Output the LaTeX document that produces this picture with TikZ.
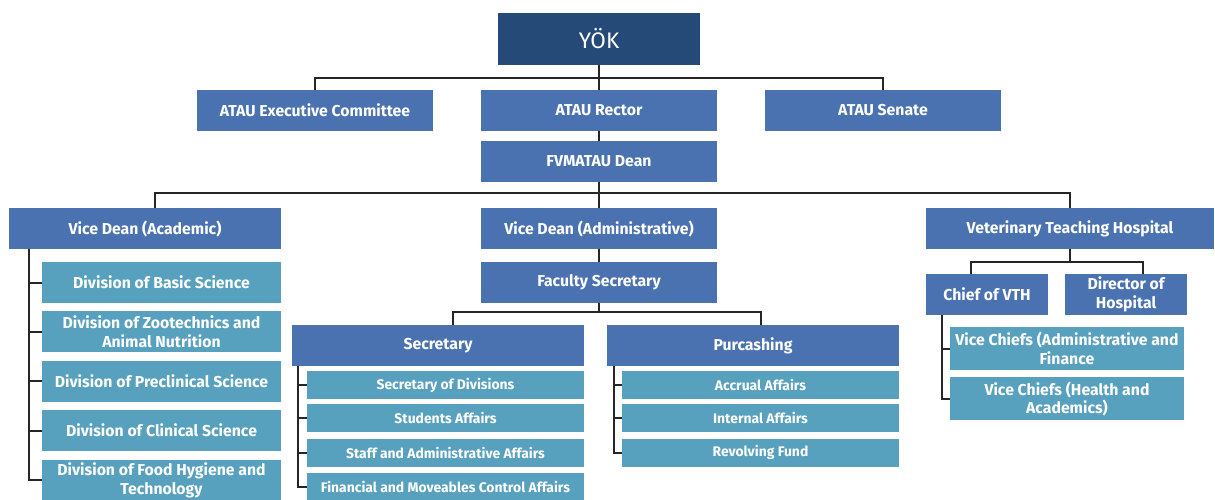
\documentclass[tikz,border=0pt]{standalone}
\usepackage{fontspec}
\setmainfont{Fira Sans}
\usetikzlibrary{positioning}
\definecolor{navy}{HTML}{264A78}
\definecolor{boxblue}{HTML}{4A72B0}
\definecolor{boxteal}{HTML}{57A0BE}

\begin{document}
\begin{tikzpicture}[x=1pt,y=-1pt]
          \tikzstyle{topnode} = [fill=navy, text=white, inner sep=0pt, minimum width=202pt, minimum height=52pt, font=\fontsize{22.5}{26}\selectfont]
          \tikzstyle{bnode} = [fill=boxblue, text=white, inner sep=0pt, minimum height=41pt, align=center, font=\bfseries\fontsize{15.8}{18.5}\selectfont]
          \tikzstyle{tnode} = [fill=boxteal, text=white, inner sep=0pt, minimum height=41pt, minimum width=239pt, align=center, font=\bfseries\fontsize{15.8}{18.5}\selectfont]
          \tikzstyle{snode} = [fill=boxteal, text=white, inner sep=0pt, minimum height=28pt, minimum width=277pt, align=center, font=\bfseries\fontsize{13.9}{16}\selectfont]
          \tikzstyle{link} = [line width=2pt, draw=black!85]
          \useasboundingbox (0,0) rectangle (1215,500);

          \node[topnode] (yok) at (599,39) {YÖK};
          \node[bnode, minimum width=236pt] (exec) at (315,110.5) {ATAU Executive Committee};
          \node[bnode, minimum width=236pt] (rector) at (599,110.5) {ATAU Rector};
          \node[bnode, minimum width=236pt] (senate) at (883,110.5) {ATAU Senate};
          \node[bnode, minimum width=236pt] (dean) at (599,161.5) {FVMATAU Dean};

          \node[bnode, minimum width=272pt] (vdac) at (145,228.5) {Vice Dean (Academic)};
          \node[bnode, minimum width=236pt] (vdad) at (599,228.5) {Vice Dean (Administrative)};
          \node[bnode, minimum width=288pt] (vth) at (1070,228.5) {Veterinary Teaching Hospital};

          \node[tnode] (div1) at (161.5,282.5) {Division of Basic Science};
          \node[tnode, below = 8pt of div1] (div2) {Division of Zootechnics and\\Animal Nutrition};
          \node[tnode, below = 8pt of div2] (div3) {Division of Preclinical Science};
          \node[tnode, below = 8pt of div3] (div4) {Division of Clinical Science};
          \node[tnode, below = 8pt of div4] (div5) {Division of Food Hygiene and\\Technology};

          \node[bnode, minimum width=236pt] (facsec) at (599,282.5) {Faculty Secretary};
          \node[bnode, minimum width=292pt] (secr) at (438,345.5) {Secretary};
          \node[bnode, minimum width=292pt] (purc) at (753,345.5) {Purcashing};

          \node[snode] (sdiv) at (445.5,385) {Secretary of Divisions};
          \node[snode, below = 5pt of sdiv] (sstud) {Students Affairs};
          \node[snode, below = 6pt of sstud] (sstaff) {Staff and Administrative Affairs};
          \node[snode, below = 6pt of sstaff] (sfin) {Financial and Moveables Control Affairs};

          \node[snode] (pacc) at (760.5,385) {Accrual Affairs};
          \node[snode, below = 5pt of pacc] (pint) {Internal Affairs};
          \node[snode, below = 6pt of pint] (prev) {Revolving Fund};

          \node[bnode, minimum width=122pt] (chief) at (987,294.5) {Chief of VTH};
          \node[bnode, minimum width=122pt] (director) at (1126,294.5) {Director of\\Hospital};
          \node[tnode, minimum width=234pt, minimum height=43pt] (vc1) at (1067,348.5) {Vice Chiefs (Administrative and\\Finance};
          \node[tnode, minimum width=234pt, minimum height=43pt, below = 7pt of vc1] (vc2) {Vice Chiefs (Health and\\Academics)};

          \draw[link] (yok.south) -- (rector.north);
          \draw[link] (exec.north) -- ++(0,-12) -| (senate.north);
          \draw[link] (rector.south) -- (dean.north);
          \draw[link] (dean.south) -- (vdad.north);
          \draw[link] ([xshift=10pt]vdac.north) -- ++(0,-15) -| (vth.north);

          \draw[link] ([xshift=20pt]vdac.south west) |- (div5.west);
          \foreach \n in {div1,div2,div3,div4}
            \draw[link] ([xshift=-13pt]\n.west) -- (\n.west);

          \draw[link] (vdad.south) -- (facsec.north);
          \draw[link] (facsec.south) -- ++(0,9);
          \draw[link] ([xshift=15pt]secr.north) -- ++(0,-13) -| ([xshift=8pt]purc.north);
          \draw[link] ([xshift=6pt]secr.south west) |- (sfin.west);
          \foreach \n in {sdiv,sstud,sstaff}
            \draw[link] ([xshift=-9pt]\n.west) -- (\n.west);
          \draw[link] ([xshift=7pt]purc.south west) |- (prev.west);
          \foreach \n in {pacc,pint}
            \draw[link] ([xshift=-8pt]\n.west) -- (\n.west);

          \draw[link] (vth.south) -- ++(0,13);
          \draw[link] ([xshift=-16pt]chief.north) -- ++(0,-12) -| ([xshift=17pt]director.north);
          \draw[link] ([xshift=16pt]chief.south west) |- (vc2.west);
          \draw[link] ([xshift=-8pt]vc1.west) -- (vc1.west);
        \end{tikzpicture}
\end{document}
